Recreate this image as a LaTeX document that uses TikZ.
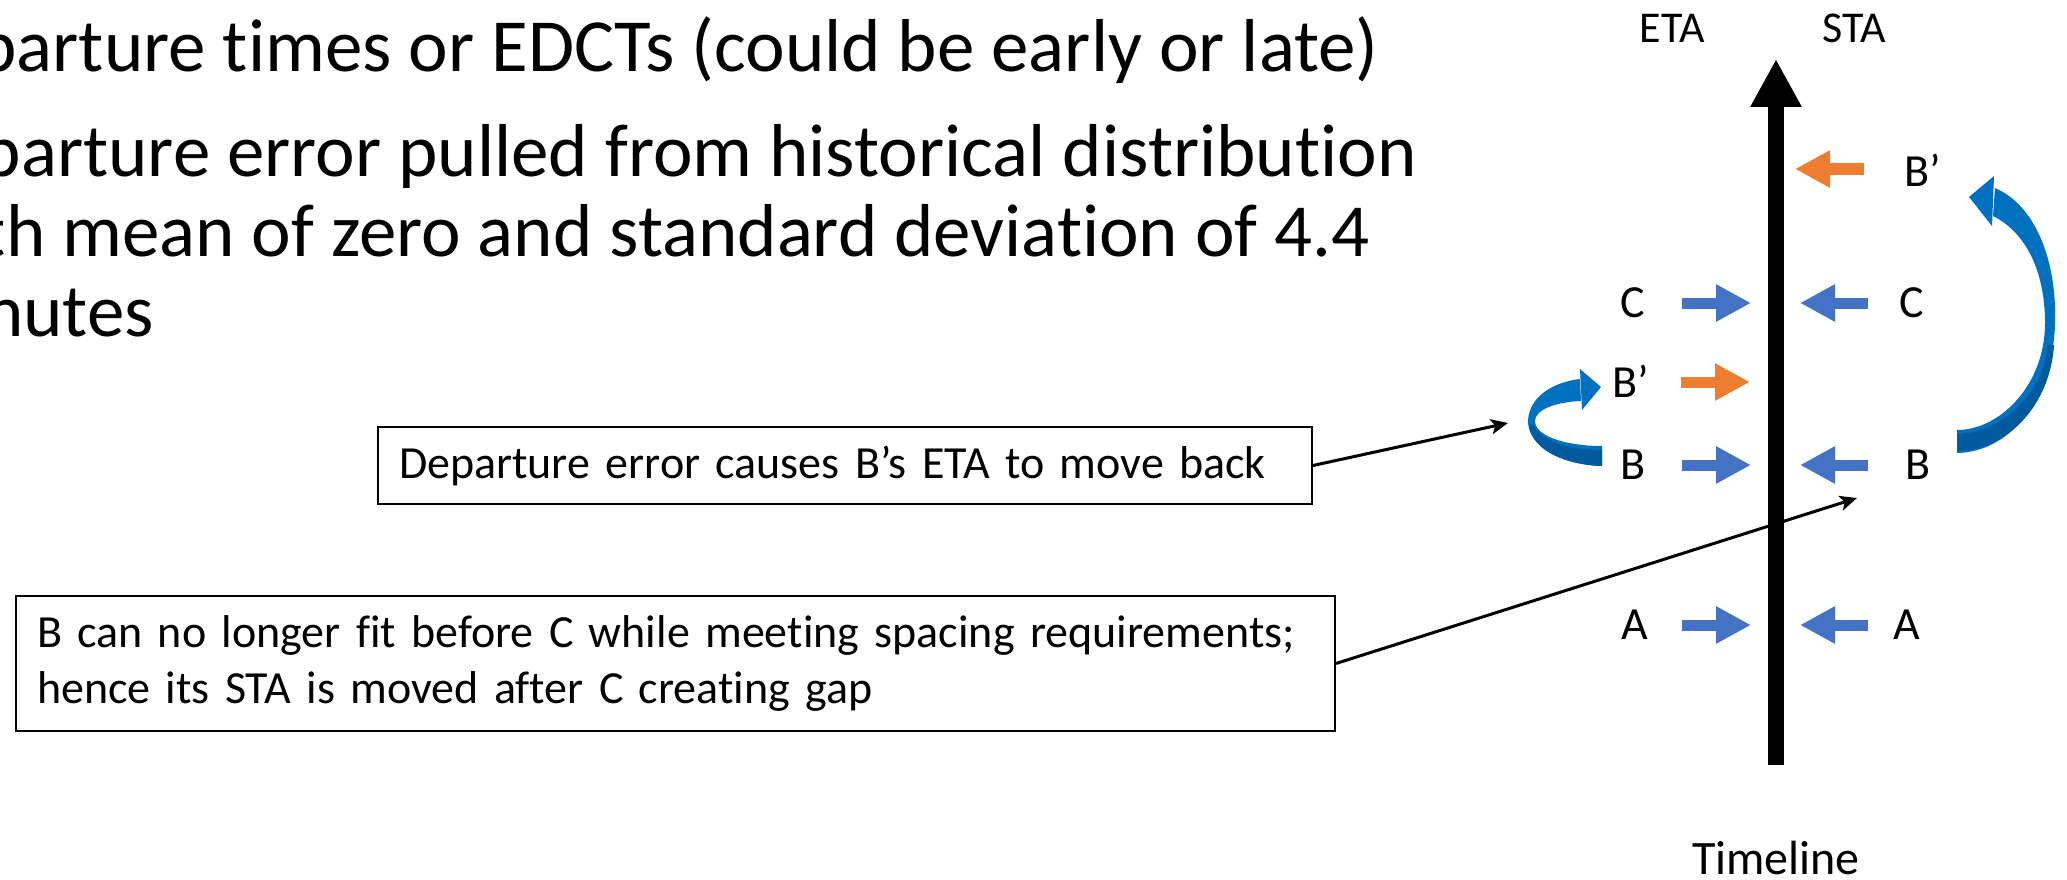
\documentclass[tikz,border=0pt]{standalone}
\usepackage{fontspec}
\setmainfont{Carlito}[Ligatures=NoCommon]
\usetikzlibrary{arrows.meta}
\definecolor{oblue}{HTML}{4472C4}
\definecolor{oorange}{HTML}{ED7D31}
\definecolor{cblue}{HTML}{0070C0}
\definecolor{cdark}{HTML}{005A9E}
\begin{document}
\begin{tikzpicture}[x=1pt,y=-1pt,
  big/.style={font=\fontsize{75}{80}\selectfont, inner sep=0pt},
  hdr/.style={font=\fontsize{44}{50}\selectfont, inner sep=0pt},
  lbl/.style={font=\fontsize{46}{50}\selectfont, inner sep=0pt},
  box/.style={draw=black, line width=2pt, fill=white, font=\fontsize{46}{56}\selectfont,
    inner xsep=21pt, inner ysep=0pt, align=left},
  blk/.style={line width=11pt, -{Triangle[length=35pt,width=35pt]}},
  conn/.style={line width=3pt, -{Stealth[length=17pt,width=15pt,inset=4pt]}}]
\useasboundingbox (0,0) rectangle (2067,880);
\clip (0,0) rectangle (2067,880);

% top text
\node[big, anchor=base east] (l1) at (1379,72) {parture times or EDCTs (could be early or late)};
\node[big, anchor=base east] (l2) at (1417,176) {parture error pulled from historical distribution};
\node[big, anchor=base east] (l3) at (1370,256) {th mean of zero and standard deviation of 4.4};
\node[big, anchor=base east] (l4) at (154,336) {nutes};

% timeline
\draw[line width=16pt, -{Triangle[length=48pt,width=48pt]}] (1776,765) -- (1776,59);
\node[hdr] (eta) at (1672,28) {ETA};
\node[hdr] (sta) at (1854,28) {STA};
\node[font=\fontsize{48}{50}\selectfont, inner sep=0pt, anchor=base] (tl) at (1776,874) {Timeline};

% rows
\node[lbl] (bpr) at (1923,170) {B’};
\draw[blk, oorange] (1864,169) -- (1795,169);

\node[lbl] (cl) at (1633,303) {C};
\node[lbl] (cr) at (1912,303) {C};
\draw[blk, oblue] (1682,303) -- (1751,303);
\draw[blk, oblue] (1868,303) -- (1800,303);

\node[lbl] (bpl) at (1631,381) {B’};
\draw[blk, oorange] (1681,382) -- (1750,382);

\node[lbl] (bl) at (1633,465) {B};
\node[lbl] (br) at (1918,465) {B};
\draw[blk, oblue] (1682,465) -- (1751,465);
\draw[blk, oblue] (1868,465) -- (1800,465);

\node[lbl] (al) at (1635,625) {A};
\node[lbl] (ar) at (1907,625) {A};
\draw[blk, oblue] (1682,625) -- (1751,625);
\draw[blk, oblue] (1868,625) -- (1800,625);

% small curved arrow (B -> B')
\fill[cblue] (1580,379) .. controls (1555,382) and (1530,395) .. (1528,420)
  .. controls (1527,447) and (1565,465) .. (1602,466) -- (1602,446)
  .. controls (1570,446) and (1537,438) .. (1535,422)
  .. controls (1534,410) and (1555,402) .. (1581,401) -- cycle;
\fill[cblue] (1580,369) -- (1601,387) -- (1582,410) -- cycle;
\fill[cdark] (1529,426) .. controls (1533,452) and (1568,465) .. (1602,466) -- (1602,450)
  .. controls (1570,450) and (1540,442) .. (1533,424) -- cycle;

% big curved arrow (B -> B')
\fill[cblue] (1995,188) .. controls (2035,205) and (2057,260) .. (2055,323)
  .. controls (2053,400) and (2010,452) .. (1957,453) -- (1957,430)
  .. controls (2000,430) and (2045,385) .. (2045,323)
  .. controls (2045,270) and (2025,232) .. (1993,216) -- cycle;
\fill[cblue] (1994,176) -- (1969,197) -- (1992,226) -- cycle;
\fill[cdark] (2054,345) .. controls (2050,405) and (2008,450) .. (1957,451) -- (1957,434)
  .. controls (2000,434) and (2046,392) .. (2047,345) -- cycle;

% callout boxes
\node[box, minimum height=77pt, text width=892pt] (b1) at (845,465.5)
  {\mbox{Departure error causes B’s ETA to move back}};
\node[box, minimum height=135pt, text width=1277pt] (b2) at (675.5,663.5)
  {\mbox{B can no longer fit before C while meeting spacing requirements;}\\\mbox{hence its STA is moved after C creating gap}};

\coordinate (t1) at (1508,423);
\coordinate (t2) at (1857,498);
\draw[conn] (b1.east) -- (t1);
\draw[conn] (b2.east) -- (t2);
\end{tikzpicture}
\end{document}
